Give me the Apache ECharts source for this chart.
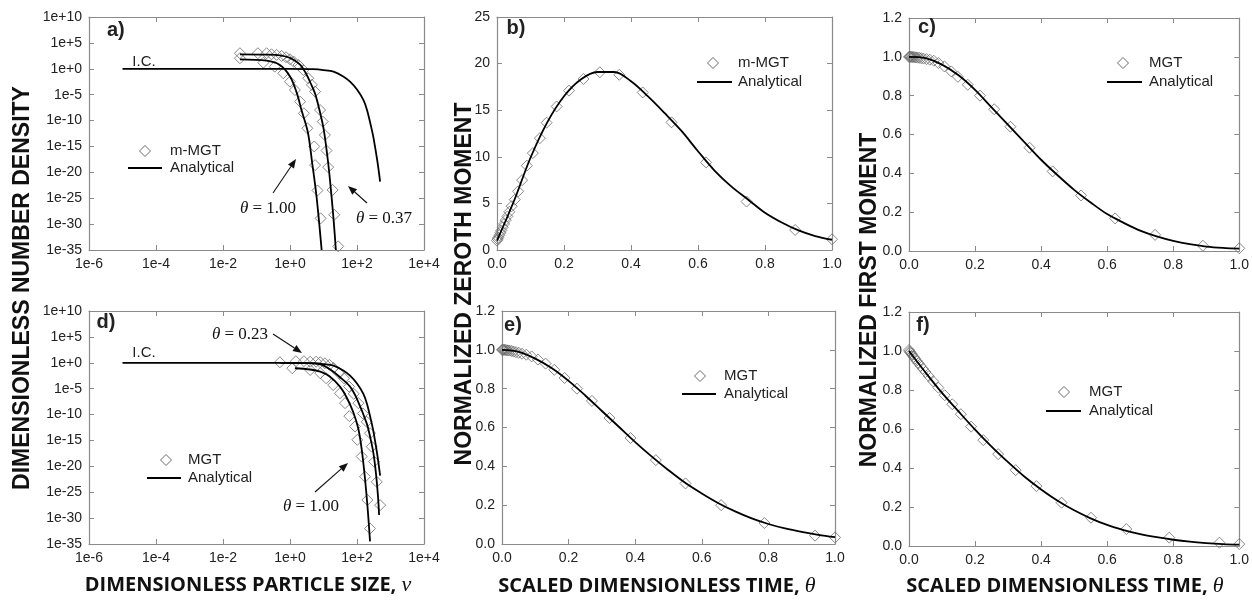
<!DOCTYPE html>
<html>
<head>
<meta charset="utf-8">
<script src="https://cdn.jsdelivr.net/npm/echarts@6/dist/echarts.min.js"></script>
<style>
  html, body { margin: 0; padding: 0; background: #fff; }
  #chart { width: 1252px; height: 603px; }
</style>
</head>
<body>
<div id="chart"></div>
<script>
// ---------- tick labels ----------
const sizeTicks = [1e-6, 1e-4, 1e-2, 1e0, 1e2, 1e4];
const densityTicks = [1e-35, 1e-30, 1e-25, 1e-20, 1e-15, 1e-10, 1e-5, 1e0, 1e5, 1e10];

// ---------- number density: initial condition (panels a and d) ----------
const icSize    = [1e-5, 0.1, 1, 5, 10, 20, 40, 62, 100, 155, 200, 275, 310, 400, 490];
const icDensity = [1, 1, 0.98, 0.83, 0.56, 0.27, 0.03, 3.2e-3, 1e-4, 1e-6, 1e-8, 2e-12, 5e-14, 2.5e-18, 1.6e-22];

// ---------- panel a: analytical curves ----------
const a037Size    = [0.032, 0.2, 0.5, 1.0, 2.0, 3.0, 4.0, 5.6, 8.0, 10.2, 13.8, 17.4, 20.5, 23.4];
const a037Density = [6.3e2, 5.6e2, 4e2, 1.3e2, 6.3, 0.126, 2.5e-3, 1.6e-5, 2.5e-9, 1.6e-12, 6.3e-19, 2e-25, 1e-30, 1e-35];
const a100Size    = [0.032, 0.2, 0.5, 1.0, 1.6, 2.2, 3.4, 4.6, 6.2, 8.8];
const a100Density = [68, 36, 5.4, 0.032, 2e-5, 1.1e-8, 6.3e-13, 6.3e-19, 2e-25, 1e-35];

// ---------- panel a: m-MGT nodes ----------
const a037NodeSize    = [0.032, 0.11, 0.2, 0.28, 0.4, 0.56, 0.76, 1.0, 1.3, 1.8, 2.5, 3.5, 4.5, 5.6, 7.9, 9.5, 11, 12.3, 13.8, 18.7, 20.9, 27.5];
const a037NodeDensity = [1e3, 1e3, 1e3, 6.3e2, 4.7e2, 3e2, 1.7e2, 68, 23, 5.4, 0.59, 1.5e-2, 7.9e-4, 4e-5, 1.1e-8, 6.3e-11, 1.6e-13, 1.6e-16, 1e-19, 4e-24, 6.3e-29, 5e-35];
const a100NodeSize    = [0.032, 0.16, 0.35, 0.63, 1.0, 1.4, 2.0, 2.6, 3.3, 5.3, 5.6, 6.6, 8.2];
const a100NodeDensity = [1.1e2, 15, 2.6, 0.135, 3.2e-3, 7.9e-5, 4.5e-7, 2.5e-9, 3.2e-12, 1e-15, 2.5e-19, 3.2e-24, 1.3e-29];

// ---------- panel d: analytical curves ----------
const d023Size    = [0.5, 3, 8, 15.5, 30, 62, 100, 195, 250, 310, 370, 420, 457];
const d023Density = [1, 0.89, 0.5, 5.5e-2, 2e-3, 2.5e-5, 1e-7, 2e-12, 3.2e-15, 3.2e-18, 3.2e-22, 3.2e-26, 4e-30];
const d100Size    = [1.4, 4, 8, 15, 31, 50, 78, 110, 140, 174, 210, 245];
const d100Density = [8.7e-2, 5e-2, 2e-2, 2.5e-3, 2.5e-5, 1.6e-7, 2.5e-10, 1.6e-13, 1e-17, 3.2e-23, 3.2e-29, 3.2e-35];

// ---------- panel d: MGT nodes ----------
const d023NodeSize    = [0.5, 1.5, 2.6, 4, 6, 8, 11, 15, 20, 29, 41, 58, 80, 110, 150, 195, 245, 275, 324, 389, 490];
const d023NodeDensity = [1.26, 2.0, 2.0, 1.6, 1.6, 1.26, 0.8, 0.4, 0.1, 1e-2, 1e-3, 2.5e-5, 1e-6, 1.6e-8, 1.6e-10, 4e-12, 2.5e-14, 6.3e-17, 7.9e-20, 1e-23, 3.2e-28];
const d100NodeSize    = [1.17, 4, 8, 12, 19.5, 31, 44, 59, 87, 102, 138, 174, 204, 245];
const d100NodeDensity = [8.7e-2, 4e-2, 1e-2, 1e-3, 5e-5, 1.3e-6, 1.6e-8, 5e-11, 5e-13, 1.3e-15, 7.9e-19, 1e-22, 3.2e-27, 1e-32];

// ---------- moments: node times ----------
const thetaTop    = [0, 0.002, 0.004, 0.007, 0.01, 0.013, 0.017, 0.021, 0.026, 0.031, 0.037, 0.044, 0.053, 0.063, 0.075, 0.089, 0.107, 0.128, 0.148, 0.178, 0.215, 0.258, 0.307, 0.365, 0.435, 0.521, 0.624, 0.745, 0.89, 1.0];
const thetaBottom = [0, 0.002, 0.004, 0.007, 0.01, 0.014, 0.018, 0.023, 0.029, 0.035, 0.042, 0.05, 0.06, 0.073, 0.089, 0.108, 0.131, 0.157, 0.188, 0.225, 0.27, 0.323, 0.386, 0.462, 0.551, 0.658, 0.788, 0.94, 1.0];

// ---------- moments: method values ----------
const zerothMGTb = [1.0, 1.17, 1.33, 1.58, 1.85, 2.1, 2.45, 2.8, 3.2, 3.6, 4.1, 4.7, 5.4, 6.3, 7.5, 9.05, 10.4, 12.0, 13.66, 15.4, 17.1, 18.35, 19.07, 18.8, 16.9, 13.7, 9.4, 5.2, 2.15, 1.15];
const firstMGTc  = [1.0, 1.0, 1.0, 1.0, 0.999, 0.999, 0.998, 0.997, 0.996, 0.995, 0.993, 0.991, 0.988, 0.985, 0.98, 0.968, 0.951, 0.925, 0.897, 0.856, 0.80, 0.73, 0.64, 0.532, 0.41, 0.286, 0.168, 0.083, 0.027, 0.014];
const zerothMGTe = [1.0, 1.0, 1.0, 1.0, 0.999, 0.998, 0.997, 0.996, 0.994, 0.991, 0.988, 0.985, 0.98, 0.975, 0.966, 0.95, 0.929, 0.897, 0.855, 0.80, 0.737, 0.649, 0.546, 0.432, 0.312, 0.20, 0.108, 0.043, 0.034];
const firstMGTf  = [1.005, 0.998, 0.993, 0.987, 0.979, 0.97, 0.961, 0.95, 0.937, 0.924, 0.909, 0.892, 0.871, 0.845, 0.812, 0.773, 0.727, 0.676, 0.612, 0.543, 0.471, 0.389, 0.307, 0.222, 0.145, 0.087, 0.043, 0.017, 0.01];

// ---------- moments: analytical ----------
const lineTheta    = [0, 0.05, 0.1, 0.15, 0.2, 0.25, 0.3, 0.35, 0.4, 0.45, 0.5, 0.55, 0.6, 0.65, 0.7, 0.75, 0.8, 0.85, 0.9, 0.95, 1.0];
const zerothExactB = [1.0, 5.2, 9.9, 13.7, 16.5, 18.3, 19.1, 19.1, 18.1, 16.5, 14.7, 12.8, 10.6, 8.5, 6.8, 5.4, 4.0, 2.95, 2.1, 1.5, 1.1];
const firstExactC  = [1.0, 0.993, 0.96, 0.905, 0.83, 0.74, 0.65, 0.56, 0.47, 0.39, 0.315, 0.25, 0.19, 0.145, 0.105, 0.075, 0.052, 0.035, 0.023, 0.016, 0.012];
const zerothExactE = [1.0, 0.99, 0.955, 0.905, 0.84, 0.765, 0.685, 0.605, 0.525, 0.45, 0.38, 0.315, 0.26, 0.21, 0.168, 0.132, 0.103, 0.08, 0.062, 0.047, 0.035];
const firstExactF  = [1.0, 0.89, 0.785, 0.69, 0.597, 0.51, 0.43, 0.355, 0.29, 0.232, 0.183, 0.142, 0.108, 0.082, 0.061, 0.045, 0.032, 0.022, 0.015, 0.01, 0.007];

// ---------- styling ----------
const FRAME = '#8a8a8a';
const INK = '#222';
const SANS = 'Liberation Sans, Arial, sans-serif';
const SERIF = 'Liberation Serif, DejaVu Serif, serif';

const zip = (xs, ys) => xs.map((x, i) => [x, ys[i]]);
const logLabel = v => {
  const e = Math.round(Math.log10(v));
  return '1e' + (e >= 0 ? '+' : '') + e;
};

// plot rectangles [left, top, width, height]
const panels = [
  [89, 17, 335, 233],
  [497, 17, 335, 233],
  [909, 18, 334, 233],
  [89, 311, 335, 233],
  [502, 311, 333, 233],
  [909, 312, 334, 234]
];

const sizeAxis    = { type: 'log', min: 1e-6, max: 1e4, interval: 2, ticks: sizeTicks, fmt: logLabel };
const densityAxis = { type: 'log', min: 1e-35, max: 1e10, interval: 5, ticks: densityTicks, fmt: logLabel };
const thetaAxis   = { type: 'value', min: 0, max: 1, interval: 0.2, fmt: v => v.toFixed(1) };
const zerothAxis  = { type: 'value', min: 0, max: 25, interval: 5, fmt: v => String(v) };
const unitAxis    = { type: 'value', min: 0, max: 1.2, interval: 0.2, fmt: v => v.toFixed(1) };

function axisPair(gi, dim, spec) {
  const common = {
    gridIndex: gi, type: spec.type, min: spec.min, max: spec.max,
    splitLine: { show: false },
    axisLine: { show: true, onZero: false, lineStyle: { color: FRAME, width: 1.2 } }
  };
  if (spec.type === 'log') common.logBase = 10;
  common.interval = spec.interval;
  const tick = { show: true, inside: true, length: 5, lineStyle: { color: FRAME, width: 1 } };
  if (spec.ticks) tick.customValues = spec.ticks;
  const label = {
    show: true, color: INK, fontSize: 14, fontFamily: SANS, margin: 7,
    formatter: spec.fmt, showMinLabel: true, showMaxLabel: true
  };
  if (spec.ticks) label.customValues = spec.ticks;
  const main = Object.assign({}, common, {
    position: dim === 'x' ? 'bottom' : 'left', axisTick: tick, axisLabel: label
  });
  const mirror = Object.assign({}, common, {
    position: dim === 'x' ? 'top' : 'right', axisTick: tick, axisLabel: { show: false }
  });
  return [main, mirror];
}

const axisSpecs = [
  [sizeAxis, densityAxis],
  [thetaAxis, zerothAxis],
  [thetaAxis, unitAxis],
  [sizeAxis, densityAxis],
  [thetaAxis, unitAxis],
  [thetaAxis, unitAxis]
];

const grids = panels.map(p => ({ left: p[0], top: p[1], width: p[2], height: p[3], containLabel: false }));
const xAxes = [], yAxes = [];
axisSpecs.forEach((s, gi) => {
  xAxes.push(...axisPair(gi, 'x', s[0]));
  yAxes.push(...axisPair(gi, 'y', s[1]));
});

function curve(gi, data, name) {
  return {
    name, type: 'line', xAxisIndex: 2 * gi, yAxisIndex: 2 * gi, data,
    showSymbol: false, symbol: 'none', smooth: 0.35, clip: true, z: 4,
    lineStyle: { color: '#000', width: 1.8 }, silent: true
  };
}
function nodes(gi, data, name) {
  return {
    name, type: 'scatter', xAxisIndex: 2 * gi, yAxisIndex: 2 * gi, data,
    symbol: 'diamond', symbolSize: 11, z: 3, silent: true,
    itemStyle: { color: 'rgba(255,255,255,0)', borderColor: '#6b6b6b', borderWidth: 1 }
  };
}

const series = [
  // a) number density, m-MGT
  curve(0, zip(icSize, icDensity), 'I.C.'),
  curve(0, zip(a037Size, a037Density), 'θ = 0.37'),
  curve(0, zip(a100Size, a100Density), 'θ = 1.00'),
  nodes(0, zip(a037NodeSize, a037NodeDensity), 'm-MGT θ = 0.37'),
  nodes(0, zip(a100NodeSize, a100NodeDensity), 'm-MGT θ = 1.00'),
  // b) zeroth moment, m-MGT
  nodes(1, zip(thetaTop, zerothMGTb), 'm-MGT'),
  curve(1, zip(lineTheta, zerothExactB), 'Analytical'),
  // c) first moment, MGT
  nodes(2, zip(thetaTop, firstMGTc), 'MGT'),
  curve(2, zip(lineTheta, firstExactC), 'Analytical'),
  // d) number density, MGT
  curve(3, zip(icSize, icDensity), 'I.C.'),
  curve(3, zip(d023Size, d023Density), 'θ = 0.23'),
  curve(3, zip(d100Size, d100Density), 'θ = 1.00'),
  nodes(3, zip(d023NodeSize, d023NodeDensity), 'MGT θ = 0.23'),
  nodes(3, zip(d100NodeSize, d100NodeDensity), 'MGT θ = 1.00'),
  // e) zeroth moment, MGT
  nodes(4, zip(thetaBottom, zerothMGTe), 'MGT'),
  curve(4, zip(lineTheta, zerothExactE), 'Analytical'),
  // f) first moment, MGT
  nodes(5, zip(thetaBottom, firstMGTf), 'MGT'),
  curve(5, zip(lineTheta, firstExactF), 'Analytical')
];

// ---------- annotation helpers ----------
function text(x, y, str, font, align, extra) {
  const style = Object.assign({
    text: str, font, fill: INK,
    align: align || 'left', verticalAlign: 'middle',
    textAlign: align || 'left', textVerticalAlign: 'middle'
  }, extra || {});
  return { type: 'text', x, y, style, silent: true, z: 10 };
}
function thetaText(x, y, value) {
  return text(x, y, '{i|θ}{n| = ' + value + '}', '17px ' + SERIF, 'center', {
    rich: {
      i: { fontStyle: 'italic', fontSize: 17, fontFamily: SERIF, fill: '#111' },
      n: { fontSize: 17, fontFamily: SERIF, fill: '#111' }
    }
  });
}
function arrow(x1, y1, x2, y2) {
  const ang = Math.atan2(y2 - y1, x2 - x1);
  const L = 9, W = 3.6;
  const c = Math.cos(ang), s = Math.sin(ang);
  const bx = x2 - L * c, by = y2 - L * s;
  return [
    { type: 'line', shape: { x1, y1, x2: bx, y2: by }, style: { stroke: '#111', lineWidth: 1.1 }, silent: true, z: 10 },
    { type: 'polygon', shape: { points: [[x2, y2], [bx - W * s, by + W * c], [bx + W * s, by - W * c]] },
      style: { fill: '#111' }, silent: true, z: 10 }
  ];
}
function legend(dx, dy, lineX1, lineX2, lineY, textX, markLabel) {
  const r = 5.5;
  return [
    { type: 'polygon', shape: { points: [[dx, dy - r], [dx + r, dy], [dx, dy + r], [dx - r, dy]] },
      style: { fill: 'none', stroke: '#6b6b6b', lineWidth: 1 }, silent: true, z: 10 },
    text(textX, dy, markLabel, '15px ' + SANS),
    { type: 'line', shape: { x1: lineX1, y1: lineY, x2: lineX2, y2: lineY },
      style: { stroke: '#000', lineWidth: 1.8 }, silent: true, z: 10 },
    text(textX, lineY, 'Analytical', '15px ' + SANS)
  ];
}
function vTitle(x, y, str) {
  return {
    type: 'text', x, y, rotation: Math.PI / 2, silent: true, z: 10,
    style: { text: str, font: 'bold 23px ' + SANS, fill: '#111',
      align: 'center', verticalAlign: 'middle', textAlign: 'center', textVerticalAlign: 'middle' }
  };
}
function hTitle(x, y, str, sym) {
  return text(x, y, '{n|' + str + '}{i|' + sym + '}', 'bold 20px Open Sans', 'center', {
    rich: {
      n: { fontWeight: 'bold', fontSize: 20, fontFamily: 'Open Sans, Noto Sans, sans-serif', fill: '#111' },
      i: { fontStyle: 'italic', fontSize: 22, fontFamily: SERIF, fill: '#111' }
    }
  });
}

const graphics = [
  // panel tags
  text(107, 30, 'a)', 'bold 20px ' + SANS),
  text(516, 28, 'b)', 'bold 20px ' + SANS, 'center'),
  text(927, 27, 'c)', 'bold 20px ' + SANS, 'center'),
  text(106, 322, 'd)', 'bold 20px ' + SANS, 'center'),
  text(513, 325, 'e)', 'bold 20px ' + SANS, 'center'),
  text(923, 325, 'f)', 'bold 20px ' + SANS, 'center'),
  // panel a notes
  text(144, 62, 'I.C.', '15px ' + SANS, 'center'),
  thetaText(268, 209, '1.00'),
  thetaText(384, 219, '0.37'),
  ...arrow(273, 193, 296, 159),
  ...arrow(367, 203, 348, 186),
  // panel d notes
  text(144, 353, 'I.C.', '15px ' + SANS, 'center'),
  thetaText(240, 335, '0.23'),
  thetaText(311, 507, '1.00'),
  ...arrow(273, 334, 302, 353),
  ...arrow(315, 492, 348, 463),
  // legends
  ...legend(145, 151, 128, 162, 168, 170, 'm-MGT'),
  ...legend(713, 63, 697, 732, 82, 738, 'm-MGT'),
  ...legend(1123, 63, 1107, 1142, 82, 1149, 'MGT'),
  ...legend(166, 460, 147, 181, 478, 188, 'MGT'),
  ...legend(700, 376, 682, 716, 394, 724, 'MGT'),
  ...legend(1064, 392, 1046, 1081, 411, 1089, 'MGT'),
  // axis titles
  vTitle(23, 288, 'DIMENSIONLESS NUMBER DENSITY'),
  vTitle(465, 284, 'NORMALIZED ZEROTH MOMENT'),
  vTitle(870, 300, 'NORMALIZED FIRST MOMENT'),
  hTitle(248, 585, 'DIMENSIONLESS PARTICLE SIZE, ', 'v'),
  hTitle(657, 586, 'SCALED DIMENSIONLESS TIME, ', 'θ'),
  hTitle(1065, 586, 'SCALED DIMENSIONLESS TIME, ', 'θ')
];

const chart = echarts.init(document.getElementById('chart'), null, { renderer: 'canvas' });
chart.setOption({
  animation: false,
  backgroundColor: '#fff',
  grid: grids,
  xAxis: xAxes,
  yAxis: yAxes,
  series,
  graphic: { elements: graphics }
});
</script>
</body>
</html>
